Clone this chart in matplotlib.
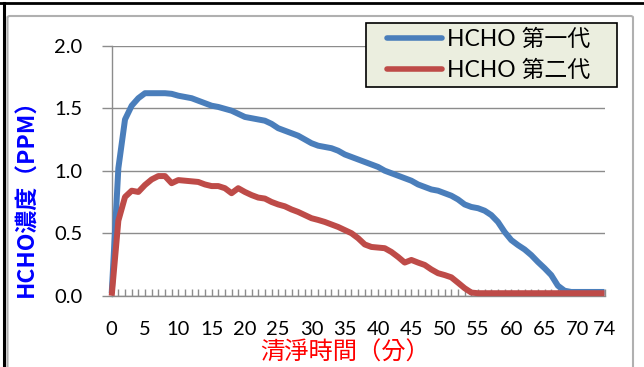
import matplotlib
matplotlib.use("Agg")
import matplotlib.pyplot as plt
from matplotlib.lines import Line2D
from matplotlib.patches import FancyBboxPatch
from matplotlib.legend_handler import HandlerLine2D

# ---- data ----
minutes = list(range(0, 75))
gen1 = [0.02, 1.02, 1.41, 1.52, 1.58, 1.62, 1.62, 1.62, 1.62, 1.615,
        1.60, 1.59, 1.58, 1.56, 1.54, 1.52, 1.51, 1.495, 1.48, 1.455,
        1.43, 1.42, 1.41, 1.40, 1.375, 1.34, 1.32, 1.30, 1.28, 1.25,
        1.22, 1.20, 1.19, 1.18, 1.16, 1.13, 1.11, 1.09, 1.07, 1.05,
        1.03, 1.00, 0.98, 0.96, 0.94, 0.92, 0.89, 0.87, 0.85, 0.84,
        0.82, 0.80, 0.77, 0.73, 0.71, 0.70, 0.68, 0.645, 0.59, 0.51,
        0.445, 0.405, 0.37, 0.325, 0.27, 0.22, 0.165, 0.08, 0.04, 0.03,
        0.03, 0.03, 0.03, 0.03, 0.03]
gen2 = [0.0, 0.60, 0.79, 0.84, 0.83, 0.886, 0.93, 0.957, 0.957, 0.90,
        0.925, 0.92, 0.915, 0.91, 0.89, 0.877, 0.877, 0.86, 0.82, 0.86,
        0.83, 0.805, 0.785, 0.777, 0.75, 0.73, 0.715, 0.69, 0.67, 0.645,
        0.62, 0.606, 0.59, 0.57, 0.55, 0.525, 0.50, 0.46, 0.41, 0.39,
        0.385, 0.38, 0.35, 0.31, 0.265, 0.286, 0.265, 0.246, 0.21, 0.18,
        0.165, 0.147, 0.104, 0.06, 0.025, 0.02, 0.02, 0.02, 0.02, 0.02,
        0.02, 0.02, 0.02, 0.02, 0.02, 0.02, 0.02, 0.02, 0.02, 0.02,
        0.02, 0.02, 0.02, 0.02, 0.02]
series_names = ["HCHO 第一代", "HCHO 第二代"]
x_ticks = [0, 5, 10, 15, 20, 25, 30, 35, 40, 45, 50, 55, 60, 65, 70, 74]
y_ticks = [0.0, 0.5, 1.0, 1.5, 2.0]
x_title = "清淨時間（分）"
y_title = "HCHO濃度（PPM）"

W, H = 644, 367
fig = plt.figure(figsize=(W / 100, H / 100), dpi=100)
fig.patch.set_facecolor("white")

L, R, T, B = 111.7, 604.5, 45.7, 295.7
ax = fig.add_axes([L / W, 1 - B / H, (R - L) / W, (B - T) / H])
ax.set_facecolor("white")

blue = "#4A7EBB"
red = "#BE4B48"
grid_c = "#8C8C8C"

l1, = ax.plot(minutes, gen1, color=blue, lw=4.3, solid_joinstyle="round",
              solid_capstyle="butt", clip_on=False, label=series_names[0], zorder=3)
l2, = ax.plot(minutes, gen2, color=red, lw=4.3, solid_joinstyle="round",
              solid_capstyle="butt", clip_on=False, label=series_names[1], zorder=4)

ax.set_xlim(0, 74)
ax.set_ylim(0, 2.0)

tick_font = "Lato"
ax.set_xticks(x_ticks)
ax.set_xticklabels([str(v) for v in x_ticks], fontsize=14.5, family=tick_font)
ax.set_xticks(minutes, minor=True)
ax.set_yticks(y_ticks)
ax.set_yticklabels([f"{v:.1f}" for v in y_ticks], fontsize=14.5, family=tick_font)

ax.tick_params(axis="x", which="both", direction="in", length=5, width=1,
               color=grid_c, pad=18)
ax.tick_params(axis="y", which="major", direction="out", length=7.2, width=1,
               color=grid_c, pad=14)
ax.tick_params(axis="y", which="minor", length=0)

for s in ["top", "right"]:
    ax.spines[s].set_visible(False)
for s in ["left", "bottom"]:
    ax.spines[s].set_color(grid_c)
    ax.spines[s].set_linewidth(1)

ax.yaxis.grid(True, color=grid_c, linewidth=1)
ax.set_axisbelow(True)

# axis titles
fig.text(345 / W, 1 - 353 / H, x_title, color="#FF0000", fontsize=17.5,
         family=["Noto Sans CJK TC"], ha="center", va="center")
fig.text(27 / W, 1 - 192 / H, y_title, color="#0000FF", fontsize=16.5,
         fontweight="bold", family=["Noto Sans CJK TC"], rotation=90,
         ha="center", va="center")

# legend
hmap = {l1: HandlerLine2D(xpad=0.67), l2: HandlerLine2D(xpad=0.67)}
leg = ax.legend(handles=[l1, l2], loc="upper left", mode="expand",
                bbox_to_anchor=(366 / W, 1 - 90.7 / H, 251 / W, 67.4 / H),
                bbox_transform=fig.transFigure, handler_map=hmap,
                borderaxespad=0, frameon=True, fancybox=False,
                prop={"family": ["Lato", "Noto Sans CJK TC"], "size": 16.5},
                handlelength=3.07, handletextpad=0.22, borderpad=0.25,
                labelspacing=0.42)
leg.get_frame().set_facecolor("#EBEEDF")
leg.get_frame().set_edgecolor("black")
leg.get_frame().set_linewidth(1.2)
leg.get_frame().set_alpha(1)
for ln in leg.get_lines():
    ln.set_linewidth(4)
    ln.set_solid_capstyle("round")

# chart-area border and outer frame
border = FancyBboxPatch((7.5 / W, -0.05), (633 - 7.5) / W, (1 - 16 / H) + 0.05,
                        boxstyle="round,pad=0,rounding_size=0.004",
                        transform=fig.transFigure, facecolor="none",
                        edgecolor="#B0B0B0", linewidth=1.5, zorder=0)
fig.patches.append(border)
fig.add_artist(Line2D([0, 1], [1 - 3 / H, 1 - 3 / H], transform=fig.transFigure,
                      color="black", linewidth=2))
fig.add_artist(Line2D([4 / W, 4 / W], [0, 1 - 3 / H], transform=fig.transFigure,
                      color="black", linewidth=2.2))

fig.savefig("out.png", dpi=100, facecolor="white")
